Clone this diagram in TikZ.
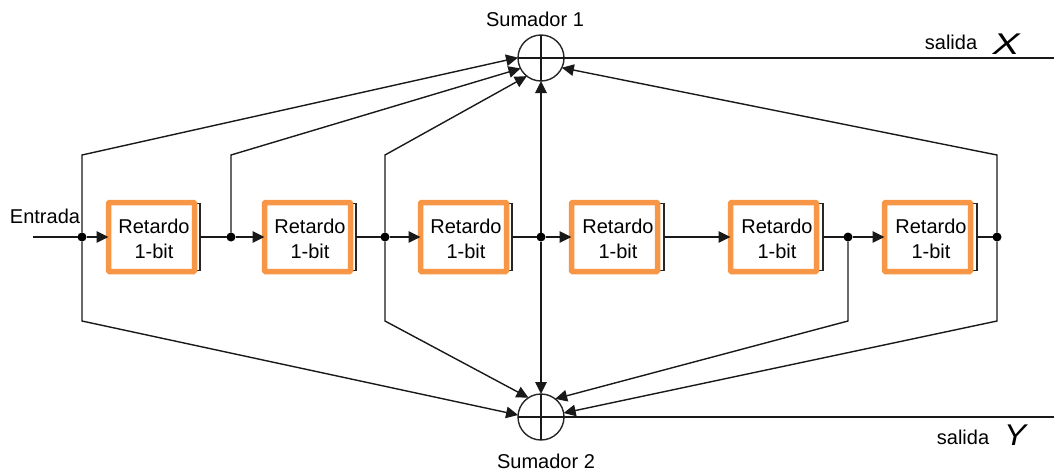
\documentclass[tikz,border=0pt]{standalone}
\usepackage{fontspec}
\setmainfont{Liberation Sans}
\usetikzlibrary{arrows.meta}
\definecolor{retardoorange}{RGB}{247,150,70}
\tikzset{
	wire/.style={line width=1.4pt, color=black!90},
	feed/.style={wire, -{Triangle[length=12pt,width=11.5pt]}},
	retardo/.style={draw=retardoorange, line width=5.5pt, fill=white, rounded corners=1pt, minimum width=86pt, minimum height=69pt, inner sep=0pt, outer sep=0pt},
	rettext/.style={inner sep=0pt, yshift=-2pt, align=center, font=\fontsize{20}{25.5}\selectfont},
	shade/.style={draw=black!85, line width=1.4pt, minimum width=92pt, minimum height=67pt, inner sep=0pt, outer sep=0pt},
	sumador/.style={draw=black!85, circle, line width=1.4pt, minimum size=46pt, inner sep=0pt, outer sep=0pt},
	junction/.style={fill=black, circle, minimum size=9pt, inner sep=0pt, outer sep=0pt},
	label/.style={inner sep=0pt, font=\fontsize{20}{24}\selectfont},
	bigvar/.style={inner sep=0pt, font=\fontsize{30}{30}\selectfont\itshape}
}

\begin{document}
\begin{tikzpicture}[x=1pt, y=-1pt]
			%%%%% START %%%%%
			\useasboundingbox (0, 0) rectangle (1054, 472);
			
			\node[shade] (shade1) at (154, 237) {};
			\node[shade] (shade2) at (310, 237) {};
			\node[shade] (shade3) at (466, 237) {};
			\node[shade] (shade4) at (618, 237) {};
			\node[shade] (shade5) at (777, 237) {};
			\node[shade] (shade6) at (931, 237) {};
			
			\node[retardo] (ret1) at (151.5, 237) {};
			\node[retardo] (ret2) at (307.5, 237) {};
			\node[retardo] (ret3) at (463.5, 237) {};
			\node[retardo] (ret4) at (614.5, 237) {};
			\node[retardo] (ret5) at (773.5, 237) {};
			\node[retardo] (ret6) at (927.5, 237) {};
			
			\node[rettext] (txt1) at (shade1) {Retardo\\1-bit};
			\node[rettext] (txt2) at (shade2) {Retardo\\1-bit};
			\node[rettext] (txt3) at (shade3) {Retardo\\1-bit};
			\node[rettext] (txt4) at (shade4) {Retardo\\1-bit};
			\node[rettext] (txt5) at (shade5) {Retardo\\1-bit};
			\node[rettext] (txt6) at (shade6) {Retardo\\1-bit};
			
			\node[sumador] (sum1) at (541, 58) {};
			\node[sumador] (sum2) at (541, 417) {};
			\draw[wire] (sum1.north) -- (sum1.south);
			\draw[wire] (sum1.west) -- (sum1.east);
			\draw[wire] (sum2.north) -- (sum2.south);
			\draw[wire] (sum2.west) -- (sum2.east);
			
			\node[junction] (jun1) at (82, 237) {};
			\node[junction] (jun2) at (231, 237) {};
			\node[junction] (jun3) at (385, 237) {};
			\node[junction] (jun4) at (541, 237) {};
			\node[junction] (jun5) at (848, 237) {};
			\node[junction] (jun6) at (997, 237) {};
			
			\coordinate (inp) at (33, 237);
			\coordinate (outx) at (1054, 58);
			\coordinate (outy) at (1054, 417);
			
			\coordinate (up1) at (82, 155);
			\coordinate (up2) at (231, 155);
			\coordinate (up3) at (385, 155);
			\coordinate (up6) at (997, 155);
			\coordinate (dn1) at (82, 321);
			\coordinate (dn3) at (385, 321);
			\coordinate (dn5) at (848, 321);
			\coordinate (dn6) at (997, 321);
			
			\draw[wire] (inp) -- (jun1);
			\draw[feed] (jun1) -- (ret1.west);
			\draw[wire] (shade1.east) -- (jun2);
			\draw[feed] (jun2) -- (ret2.west);
			\draw[wire] (shade2.east) -- (jun3);
			\draw[feed] (jun3) -- (ret3.west);
			\draw[wire] (shade3.east) -- (jun4);
			\draw[feed] (jun4) -- (ret4.west);
			\draw[feed] (shade4.east) -- (ret5.west);
			\draw[wire] (shade5.east) -- (jun5);
			\draw[feed] (jun5) -- (ret6.west);
			\draw[wire] (shade6.east) -- (jun6);
			
			\draw[feed] (jun1) -- (up1) -- (sum1.179);
			\draw[feed] (jun2) -- (up2) -- (sum1.207);
			\draw[feed] (jun3) -- (up3) -- (sum1.232);
			\draw[feed] (jun6) -- (up6) -- (sum1.335);
			\draw[feed] (jun4) -- (sum1.south);
			
			\draw[feed] (jun1) -- (dn1) -- (sum2.175);
			\draw[feed] (jun3) -- (dn3) -- (sum2.123);
			\draw[feed] (jun5) -- (dn5) -- (sum2.52);
			\draw[feed] (jun6) -- (dn6) -- (sum2.10);
			\draw[feed] (jun4) -- (sum2.north);
			
			\draw[wire] (sum1.east) -- (outx);
			\draw[wire] (sum2.east) -- (outy);
			
			\node[label] (lblin) at (45, 216) {Entrada};
			\node[label] (lblsum1) at (535, 19.5) {Sumador 1};
			\node[label] (lblsum2) at (546, 461.5) {Sumador 2};
			\node[label] (lblx) at (951, 42) {salida};
			\node[label] (lbly) at (963, 437) {salida};
			\node[bigvar] (varx) at (1006, 44) {\scalebox{1.35}[1]{X}};
			\node[bigvar] (vary) at (1015, 435) {\scalebox{1.1}[1]{Y}};
			
			%%%%% END %%%%%
		\end{tikzpicture}
\end{document}
